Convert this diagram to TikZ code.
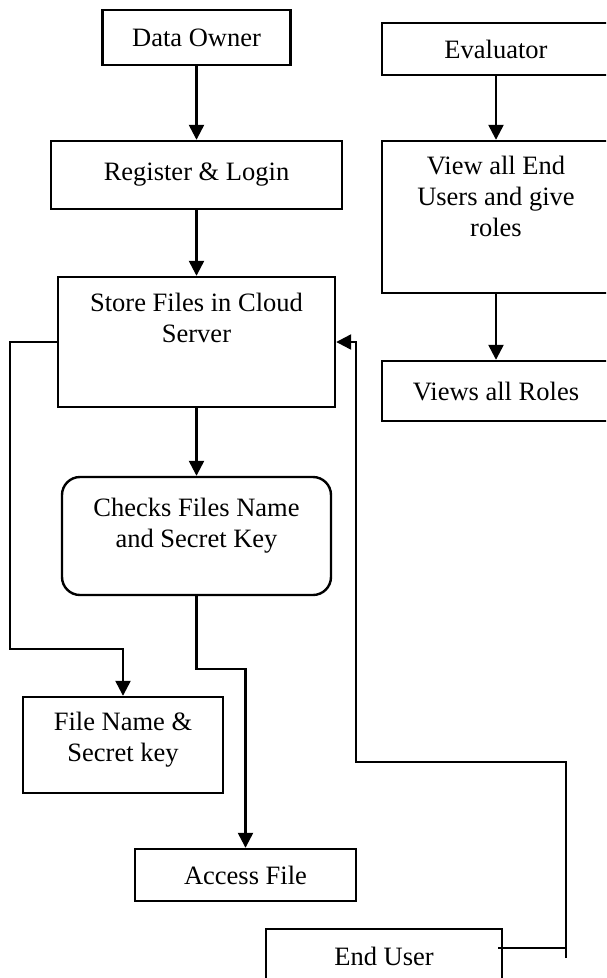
\documentclass[tikz,border=0pt]{standalone}
\usepackage{fontspec}
\setmainfont{Liberation Serif}
\usetikzlibrary{arrows.meta, positioning}

\begin{document}
\begin{tikzpicture}[x=1pt, y=-1pt,
  every node/.style={font=\fontsize{26.5}{31}\selectfont},
  box/.style={draw, line width=2.4pt, inner sep=0pt, align=center},
  txt/.style={inner sep=0pt, align=center},
  flow/.style={line width=2.4pt, -{Triangle[length=15pt, width=15pt]}},
  wire/.style={line width=2.4pt}]
\useasboundingbox (0,0) rectangle (606,978);
\clip (0,0) rectangle (606,978);
% left column
\node[box, minimum width=188pt, minimum height=55pt] (owner) at (196.5,37.5) {Data Owner};
\node[box, minimum width=291pt, minimum height=68pt] (register) at (196.5,175) {Register \& Login};
\node[box, minimum width=277pt, minimum height=130pt] (store) at (196.5,342) {};
\node[txt, below=17pt of store.north] (storetxt) {Store Files in Cloud\\Server};
\node[box, rounded corners=18pt, minimum width=269pt, minimum height=118pt] (checks) at (196.5,536) {};
\node[txt, below=22pt of checks.north] (checkstxt) {Checks Files Name\\and Secret Key};
\node[box, minimum width=200pt, minimum height=96pt] (filename) at (123,745) {};
\node[txt, below=16pt of filename.north] (filenametxt) {File Name \&\\Secret key};
\node[box, minimum width=221pt, minimum height=52pt] (access) at (245.5,875) {Access File};
\node[box, minimum width=236pt, minimum height=54pt] (enduser) at (384,956) {End User};
% right column
\node[box, minimum width=228pt, minimum height=52pt] (evaluator) at (496,49) {Evaluator};
\node[box, minimum width=228pt, minimum height=152pt] (view) at (496,217) {};
\node[txt, below=16pt of view.north] (viewtxt) {View all End\\Users and give\\roles};
\node[box, minimum width=228pt, minimum height=60pt] (roles) at (496,391) {Views all Roles};
% arrows
\draw[flow] (owner) -- (register);
\draw[flow] (register) -- (store);
\draw[flow] (store) -- (checks);
\draw[flow] (evaluator) -- (view);
\draw[flow] (view) -- (roles);
\coordinate (leftbend) at (10,649);
\draw[flow] (store.west) -| (leftbend) -| (filename.north);
\coordinate (midbend) at (245.5,669);
\draw[flow] (checks.south) |- (midbend) -| (access.north);
% feedback from end user
\coordinate (fbbot) at (566,958);
\coordinate (fbtop) at (566,762);
\coordinate (fbleft) at (356,762);
\coordinate (euport) at ([xshift=-5pt, yshift=8pt]enduser.east);
\draw[flow] (fbbot) -- (fbtop) -- (fbleft) |- (store.east);
\draw[wire] (euport) -- (euport -| fbtop);
\end{tikzpicture}
\end{document}
